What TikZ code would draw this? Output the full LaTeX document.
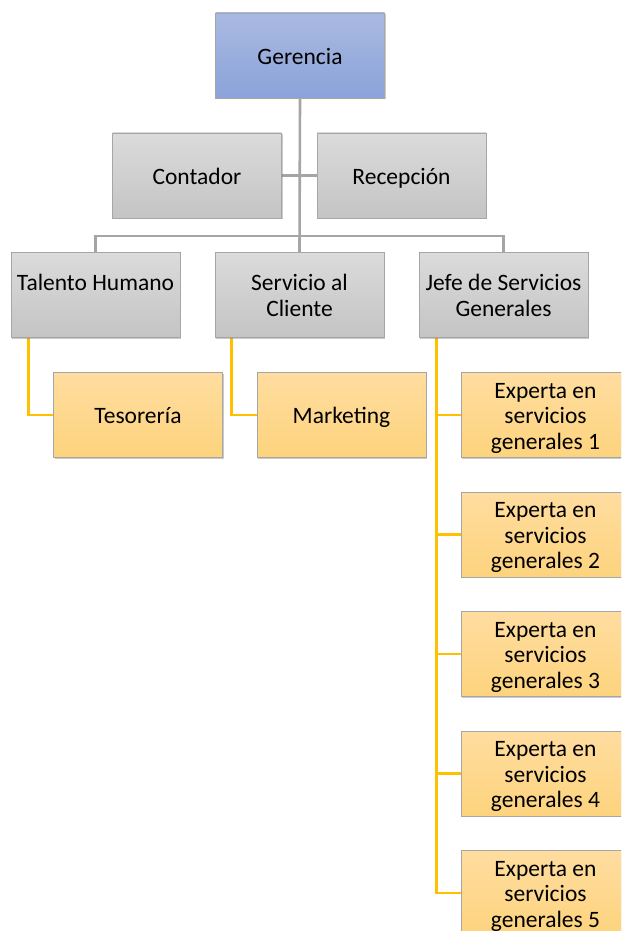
\documentclass[tikz,border=0pt]{standalone}
\usepackage{fontspec}
\setmainfont{Carlito}
\usetikzlibrary{shadows,backgrounds}
\definecolor{grayline}{HTML}{A5A5A5}
\definecolor{orangeline}{HTML}{FFC000}
\definecolor{boxborder}{HTML}{A6A6A6}
\newcommand{\toprl}{\rule{0pt}{24.9pt}}
\tikzset{
  basebox/.style={rectangle, minimum width=169pt, minimum height=85pt, inner sep=0pt,
    align=center, draw=boxborder, line width=0.6pt,
    font=\fontsize{23.5}{25.5}\selectfont, text=black,
    execute at begin node=\toprl, execute at end node=\strut,
    drop shadow={shadow xshift=1.2pt, shadow yshift=-1.2pt, opacity=0.35, fill=black!60}},
  bluebox/.style={basebox, top color={rgb,255:red,170;green,185;blue,225}, bottom color={rgb,255:red,138;green,163;blue,217}},
  graybox/.style={basebox, top color={rgb,255:red,219;green,219;blue,219}, bottom color={rgb,255:red,196;green,196;blue,196}},
  orangebox/.style={basebox, top color={rgb,255:red,255;green,221;blue,160}, bottom color={rgb,255:red,253;green,211;blue,125}},
  grayconn/.style={draw=grayline, line width=2.6pt},
  orangeconn/.style={draw=orangeline, line width=2.6pt},
}
\begin{document}
\begin{tikzpicture}[x=1pt,y=-1pt]
\useasboundingbox (0,0) rectangle (621,931);
\clip (0,0) rectangle (621,931);
% level 0
\node[bluebox] (ger) at (300,55.5) {Gerencia};
% assistants
\node[graybox] (con) at (197,175.5) {Contador};
\node[graybox] (rec) at (401.5,175.5) {Recepción};
% level 1
\node[graybox] (th) at (95.5,295) {\toprl Talento Humano\\\phantom{X}};
\node[graybox] (sc) at (299.5,295) {\toprl Servicio al\\Cliente};
\node[graybox] (jefe) at (503.5,295) {\toprl Jefe de Servicios\\Generales};
% level 2
\node[orangebox] (tes) at (138,415) {Tesorería};
\node[orangebox] (mkt) at (341.5,415) {Marketing};
\node[orangebox] (e1) at (545.5,415) {\toprl Experta en\\servicios\\generales 1};
\node[orangebox] (e2) at (545.5,534.5) {\toprl Experta en\\servicios\\generales 2};
\node[orangebox] (e3) at (545.5,654) {\toprl Experta en\\servicios\\generales 3};
\node[orangebox] (e4) at (545.5,773.5) {\toprl Experta en\\servicios\\generales 4};
\node[orangebox] (e5) at (545.5,893) {\toprl Experta en\\servicios\\generales 5};
\coordinate (bus) at (300,236);
\begin{scope}[on background layer]
\draw[grayconn] (ger.south) -- (sc.north);
\draw[grayconn] (con.east) -- (rec.west);
\draw[grayconn] (th.north) |- (bus) -| (jefe.north);
\draw[orangeconn] ([xshift=18pt]th.south west) |- (tes.west);
\draw[orangeconn] ([xshift=17pt]sc.south west) |- (mkt.west);
\draw[orangeconn] ([xshift=18pt]jefe.south west) |- (e1.west);
\draw[orangeconn] ([xshift=18pt]jefe.south west) |- (e2.west);
\draw[orangeconn] ([xshift=18pt]jefe.south west) |- (e3.west);
\draw[orangeconn] ([xshift=18pt]jefe.south west) |- (e4.west);
\draw[orangeconn] ([xshift=18pt]jefe.south west) |- (e5.west);
\end{scope}
\end{tikzpicture}
\end{document}
